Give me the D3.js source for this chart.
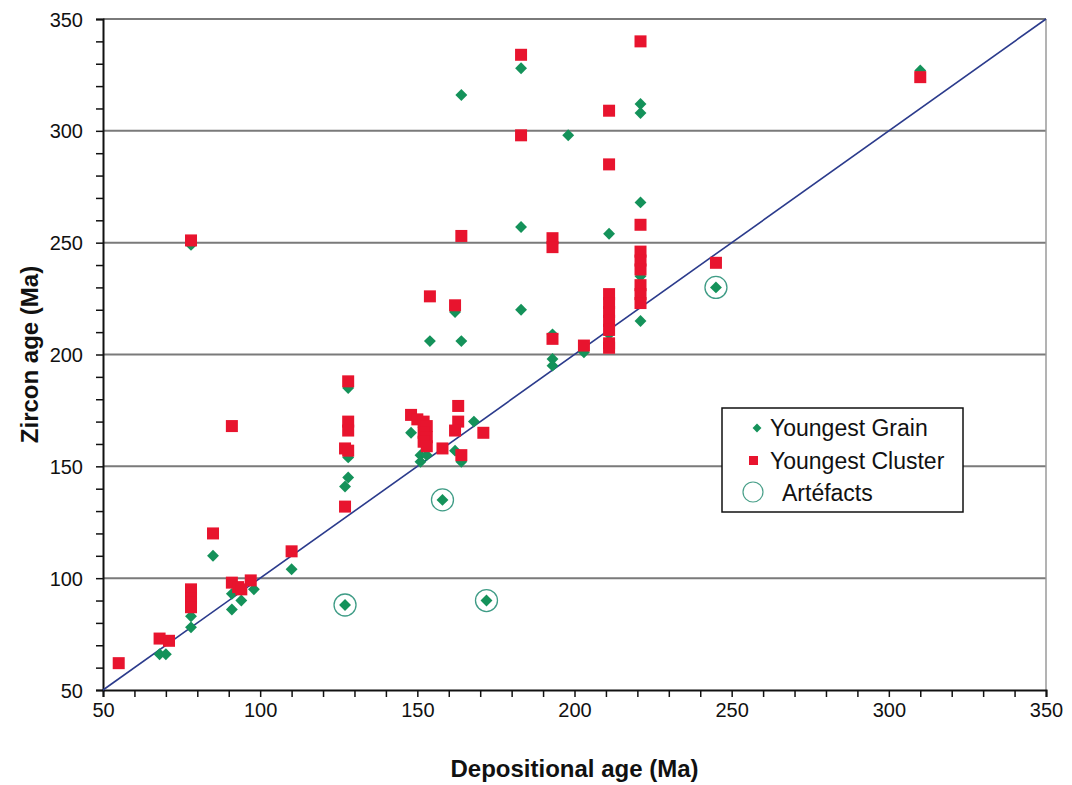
<!DOCTYPE html>
<html><head><meta charset="utf-8">
<script src="https://cdn.jsdelivr.net/npm/d3@7/dist/d3.min.js"></script>
<style>body{margin:0;background:#fff;}svg{display:block;}</style>
</head><body>
<script>
// Youngest Grain [depositional age, zircon age]
const youngestGrain = [
 [68,66],[70,66],[78,78],[78,83],[85,110],[91,86],[94,90],[91,93],[98,95],[110,104],[78,249],
 [128,185],[128,154],[128,145],[127,141],[148,165],[151,155],[151,152],[153,155],[162,157],[164,152],[168,170],
 [154,206],[162,219],[164,206],[164,316],
 [183,328],[183,257],[183,220],[198,298],[193,209],[193,198],[193,195],[203,201],
 [211,254],[211,209],[221,312],[221,308],[221,268],[221,235],[221,215],[310,327],
 [127,88],[158,135],[172,90],[245,230]
];
// Youngest Cluster [depositional age, zircon age]
const youngestCluster = [
 [55,62],[68,73],[71,72],[78,95],[78,93],[78,91],[78,89],[78,87],[85,120],[91,168],[91,98],[93,96],[94,95],[97,99],[110,112],[78,251],
 [128,188],[128,170],[128,166],[127,158],[128,157],[127,132],
 [148,173],[150,171],[152,170],[153,168],[152,165],[153,163],[152,161],[153,159],
 [158,158],[163,177],[163,170],[162,166],[164,155],[171,165],
 [154,226],[162,222],[164,253],
 [183,334],[183,298],[193,252],[193,248],[193,207],[203,204],
 [211,309],[211,285],[211,227],[211,223],[211,219],[211,215],[211,211],[211,205],[211,203],
 [221,340],[221,258],[221,246],[221,242],[221,238],[221,231],[221,227],[221,223],
 [245,241],[310,324]
];
// Artefacts (circled)
const artefacts = [[127,88],[158,135],[172,90],[245,230]];
const xTicks = [50,100,150,200,250,300,350];
const yTicks = [50,100,150,200,250,300,350];
const gridValues = [100,150,200,250,300,350];
const legendLabels = ["Youngest Grain","Youngest Cluster","Artéfacts"];

const W=1072,H=785;
const L=103,R=1046,T=19,B=690;
const svg=d3.select("body").append("svg").attr("width",W).attr("height",H);
const x=d3.scaleLinear().domain([50,350]).range([L,R]);
const y=d3.scaleLinear().domain([50,350]).range([B,T]);

// grid
svg.append("g").selectAll("line").data(gridValues).join("line")
 .attr("x1",L).attr("x2",R).attr("y1",d=>y(d)).attr("y2",d=>y(d))
 .attr("stroke","#7a7a7a").attr("stroke-width",2);
svg.append("line").attr("x1",R).attr("x2",R).attr("y1",T).attr("y2",B)
 .attr("stroke","#9a9a9a").attr("stroke-width",1.5);

// axes
const xAxis=svg.append("g").attr("transform",`translate(0,${B})`)
 .call(d3.axisBottom(x).tickValues(d3.range(50,351,10)).tickSize(7).tickFormat(d=>xTicks.includes(d)?d:""));
const yAxis=svg.append("g").attr("transform",`translate(${L},0)`)
 .call(d3.axisLeft(y).tickValues(d3.range(50,351,10)).tickSize(7).tickFormat(d=>yTicks.includes(d)?d:""));
[xAxis,yAxis].forEach(a=>{
 a.select(".domain").attr("stroke","#111").attr("stroke-width",2);
 a.selectAll(".tick line").attr("stroke","#111").attr("stroke-width",1.5);
});
xAxis.selectAll("text").attr("font-family","'Liberation Sans',Arial,sans-serif")
 .attr("font-size",20).attr("fill","#111").attr("y",13).attr("dy","0.71em");
yAxis.selectAll("text").attr("font-family","'Liberation Sans',Arial,sans-serif")
 .attr("font-size",20).attr("fill","#111").attr("x",-20).attr("dy","0.35em");

// 1:1 line
svg.append("line").attr("x1",x(50)).attr("y1",y(50)).attr("x2",x(350)).attr("y2",y(350))
 .attr("stroke","#2b3b8c").attr("stroke-width",1.6);

const diamond=d3.symbol().type(d3.symbolDiamond2).size(90);
const green="#14925a", red="#e8142e";

svg.append("g").selectAll("path").data(youngestGrain).join("path")
 .attr("d",diamond).attr("transform",d=>`translate(${x(d[0])},${y(d[1])})`).attr("fill",green);
svg.append("g").selectAll("rect").data(youngestCluster).join("rect")
 .attr("x",d=>x(d[0])-6).attr("y",d=>y(d[1])-6).attr("width",12).attr("height",12).attr("fill",red);
svg.append("g").selectAll("circle").data(artefacts).join("circle")
 .attr("cx",d=>x(d[0])).attr("cy",d=>y(d[1])).attr("r",11)
 .attr("fill","none").attr("stroke","#3f9c86").attr("stroke-width",1.3);

// axis titles
svg.append("text").attr("x",(L+R)/2).attr("y",777).attr("text-anchor","middle")
 .attr("font-family","'Liberation Sans Narrow','Liberation Sans',Arial,sans-serif").attr("font-weight","bold")
 .attr("font-size",24).attr("fill","#111").text("Depositional age (Ma)");
svg.append("text").attr("transform",`translate(38,${(T+B)/2}) rotate(-90)`).attr("text-anchor","middle")
 .attr("font-family","'Liberation Sans Narrow','Liberation Sans',Arial,sans-serif").attr("font-weight","bold")
 .attr("font-size",24).attr("fill","#111").text("Zircon age (Ma)");

// legend
const lg=svg.append("g");
lg.append("rect").attr("x",722).attr("y",408).attr("width",241).attr("height",104)
 .attr("fill","#fff").attr("stroke","#111").attr("stroke-width",1.5);
lg.append("path").attr("d",d3.symbol().type(d3.symbolDiamond2).size(50)).attr("transform","translate(757,428)").attr("fill",green);
lg.append("rect").attr("x",749).attr("y",456).attr("width",9).attr("height",9).attr("fill",red);
lg.append("circle").attr("cx",753).attr("cy",492).attr("r",10).attr("fill","none").attr("stroke","#4aa08a").attr("stroke-width",1.2);
const ly=[436,469,501], lx=[770,770,782];
lg.selectAll("text").data(legendLabels).join("text")
 .attr("x",(d,i)=>lx[i]).attr("y",(d,i)=>ly[i])
 .attr("font-family","'Liberation Sans',Arial,sans-serif").attr("font-size",23).attr("fill","#111").text(d=>d);
</script>
</body></html>
